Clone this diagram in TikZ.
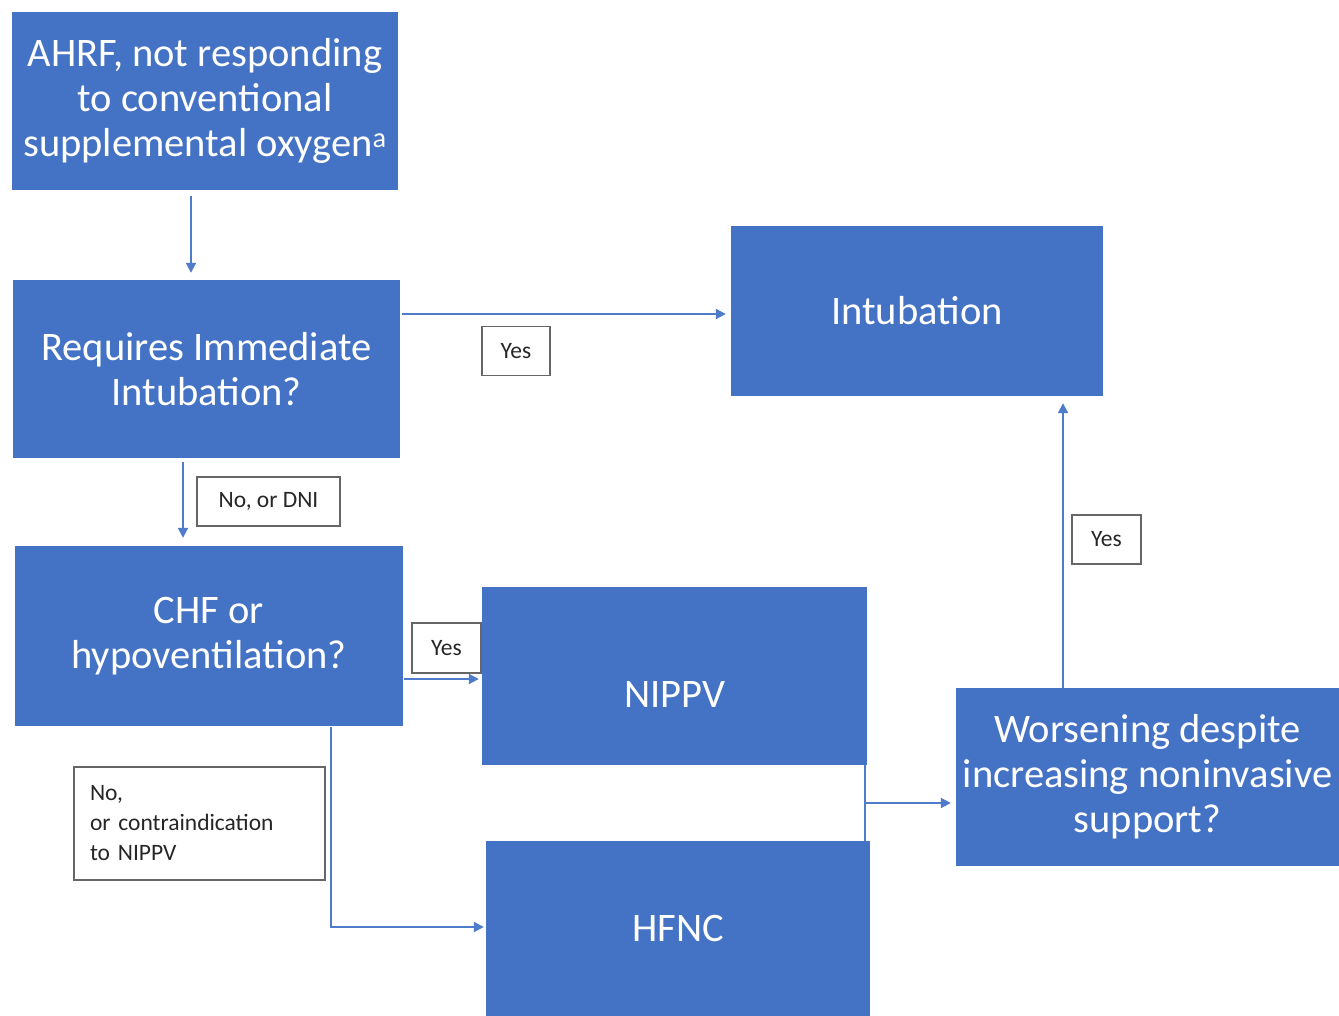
\documentclass[tikz,border=0pt]{standalone}
\usepackage{fontspec}
\setmainfont{Carlito}
\usetikzlibrary{arrows.meta,calc}
\definecolor{boxblue}{HTML}{4472C4}
\definecolor{lineblue}{HTML}{4F7BCB}
\tikzset{
  box/.style={fill=boxblue, draw=none, text=white, align=center, inner sep=0pt,
    font=\fontsize{40.5}{45}\selectfont},
  lab/.style={draw=black!60, line width=1.2pt, fill=white, text=black!85, inner sep=0pt,
    font=\fontsize{23.5}{30}\selectfont},
  arr/.style={draw=lineblue, line width=2pt, -{Triangle[length=10pt,width=10pt]}},
  ln/.style={draw=lineblue, line width=2pt}
}
\begin{document}
\begin{tikzpicture}[x=1pt,y=-1pt]
\useasboundingbox (0,0) rectangle (1339,1016);
\node[box, minimum width=386pt, minimum height=178pt] (ahrf) at (205,101)
  {AHRF, not responding\\to conventional\\supplemental oxygen\textsuperscript{a}};
\node[box, minimum width=387pt, minimum height=178pt] (req) at (206.5,369)
  {Requires Immediate\\Intubation?};
\node[box, minimum width=388pt, minimum height=180pt] (chf) at (209,636)
  {CHF or\\hypoventilation?};
\node[box, minimum width=372pt, minimum height=170pt] (intub) at (917,311)
  {Intubation};
\node[box, minimum width=385pt, minimum height=178pt] (nippv) at (674.5,676)
  {};
\node[text=white, font=\fontsize{40.5}{45}\selectfont] (nippvtxt) at ($(nippv.center)+(0,19)$) {NIPPV};
\node[box, minimum width=384pt, minimum height=175pt] (hfnc) at (678,928.5)
  {HFNC};
\node[box, minimum width=383pt, minimum height=178pt] (worse) at (1147.5,777)
  {Worsening despite\\increasing noninvasive\\support?};

% connectors
\draw[arr] ($(ahrf.south)+(-14,6)$) -- ($(req.north)+(-15.5,-7)$);
\coordinate (a1) at ($(req.east)+(2,-55)$);
\draw[arr] (a1) -- ($(a1 -| intub.west)+(-5,0)$);
\draw[arr] ($(req.south)+(-23.5,4)$) -- ($(chf.north)+(-26,-8)$);
\coordinate (a2) at ($(chf.east)+(1,43)$);
\draw[arr] (a2) -- ($(a2 -| nippv.west)+(-3,0)$);
\coordinate (a3) at ($(chf.south)+(122,1)$);
\coordinate (a3e) at ($(hfnc.west)+(-2,-1.5)$);
\draw[arr] (a3) |- (a3e);
\coordinate (b1) at ($(nippv.south east)+(-2,0)$);
\coordinate (b2) at ($(b1 |- hfnc.north)$);
\draw[ln] (b1) -- (b2);
\coordinate (b3) at ($(b1)!0.5!(b2)$);
\draw[arr] (b3) -- ($(b3 -| worse.west)+(-5,0)$);
\coordinate (c1) at ($(worse.north)+(-84.5,0)$);
\draw[arr] (c1) -- ($(c1 |- intub.south)+(0,7)$);

% labels
\node[lab, minimum width=68pt, minimum height=49pt] (y1) at (516,351) {Yes};
\node[lab, minimum width=143pt, minimum height=49pt] (ndni) at (268.5,501.5) {No, or DNI};
\node[lab, minimum width=69pt, minimum height=50pt] (y2) at (446.5,648) {Yes};
\node[lab, minimum width=251pt, minimum height=113pt, text width=219pt, align=left,
  inner xsep=16pt] (nocontra) at (199.5,823.5) {No,\\or contraindication\\to NIPPV};
\node[lab, minimum width=69pt, minimum height=49pt] (y3) at (1106.5,539.5) {Yes};
\end{tikzpicture}
\end{document}
